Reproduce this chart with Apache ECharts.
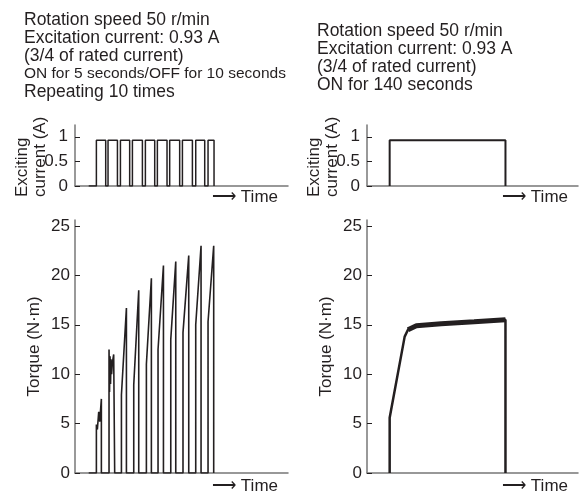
<!DOCTYPE html>
<html>
<head>
<meta charset="utf-8">
<script src="https://cdn.jsdelivr.net/npm/echarts@6/dist/echarts.min.js"></script>
<style>
  html, body { margin: 0; padding: 0; background: #fff; }
  #chart { width: 579px; height: 495px; }
</style>
</head>
<body>
<div id="chart"></div>
<script>
// time axis in seconds (same scale for all four panels)
const TIME_MAX = 256;

// left: exciting current, 10 on/off cycles
const currentLevel = 0.93;
const cycleStart = 16.5;
const pulseOn  = [25.7, 39.7, 54.6, 69.0, 84.6, 99.0, 113.8, 129.1, 145.1, 159.9];
const pulseOff = [36.9, 51.0, 65.7, 81.0, 95.8, 110.6, 125.8, 141.1, 155.9, 167.1];

// right: one long pulse (140 s)
const longOn = 27.5;
const longOff = 168;

// left torque, one spike per pulse
const tqOn   = [25.7, 40.9, 55.8, 70.6, 85.8, 99.8, 115.1, 129.8, 145.1, 159.9];
const tqOff  = [31.7, 47.7, 61.8, 76.6, 91.8, 106.3, 121.1, 136.7, 151.5, 166.7];
const tqFrom = [4.9, 12.5, 7.9, 8.9, 11.0, 12.5, 13.5, 14.2, 15.0, 15.3];
const tqPeak = [7.5, 12.0, 16.7, 18.5, 19.7, 21.0, 21.4, 22.0, 23.0, 23.0];
// chatter inside the first two pulses [t, torque]
const tqChatter = [
  [[26.9, 4.4], [28.5, 6.2], [29.7, 5.2]],
  [[41.5, 8.2], [42.1, 11.8], [42.7, 9.0], [43.3, 11.5], [44.0, 10.0], [45.0, 11.2], [46.5, 12.0]]
];

// right torque
const tqRightT = [27.5, 27.5, 45.7, 49.7, 59.9, 90, 130, 168, 168];
const tqRightV = [0, 5.6, 13.8, 14.5, 14.9, 15.1, 15.3, 15.5, 0];

const currentTicks = [0, 0.5, 1];
const torqueTicks = [0, 5, 10, 15, 20, 25];

const INK = '#231f20';
const FONT = 'Liberation Sans, Arial, sans-serif';

// build step traces
const currentLeft = [[cycleStart, 0]];
pulseOn.forEach((t, i) => {
  currentLeft.push([t, 0], [t, currentLevel], [pulseOff[i], currentLevel], [pulseOff[i], 0]);
});
const currentRight = [[longOn, 0], [longOn, currentLevel], [longOff, currentLevel], [longOff, 0]];

const torqueLeft = [[cycleStart, 0]];
tqOn.forEach((t, i) => {
  torqueLeft.push([t, 0], [t, tqFrom[i]]);
  (tqChatter[i] || []).forEach(p => torqueLeft.push(p));
  torqueLeft.push([tqOff[i], tqPeak[i]], [tqOff[i], 0]);
});
const torqueRight = tqRightT.map((t, i) => [t, tqRightV[i]]);
const torquePlateau = torqueRight.slice(3, 8);

const chart = echarts.init(document.getElementById('chart'));

function xAxisFor(gridIndex, padTop) {
  return {
    type: 'value', gridIndex, min: 0, max: TIME_MAX,
    axisLine: { lineStyle: { color: '#777', width: 1.5 } },
    axisTick: { show: false },
    axisLabel: { show: false },
    splitLine: { show: false },
    name: '\u27f6 Time',
    nameLocation: 'end',
    nameGap: -10,
    nameMoveOverlap: false,
    nameTextStyle: {
      color: INK, fontFamily: FONT, fontSize: 17,
      align: 'right', verticalAlign: 'top', padding: [padTop, 0, 0, 0]
    }
  };
}

function yAxisFor(gridIndex, max, ticks, labelMargin) {
  return {
    type: 'value', gridIndex, min: 0, max,
    axisLine: { show: true, lineStyle: { color: '#777', width: 1.5 } },
    axisTick: { show: true, inside: true, length: 5, customValues: ticks, lineStyle: { color: INK } },
    axisLabel: { customValues: ticks, color: INK, fontFamily: FONT, fontSize: 17, margin: labelMargin },
    splitLine: { show: false }
  };
}

const currentName = {
  name: 'Exciting\ncurrent (A)',
  nameLocation: 'start',
  nameRotate: 90,
  nameGap: 11,
  nameMoveOverlap: false,
  nameTextStyle: {
    color: INK, fontFamily: FONT, fontSize: 17, lineHeight: 18,
    align: 'left', verticalAlign: 'bottom', padding: [0, 0, 26, 0]
  }
};
const torqueName = {
  name: 'Torque (N\u00b7m)',
  nameLocation: 'middle',
  nameGap: 32,
  nameMoveOverlap: false,
  nameTextStyle: { color: INK, fontFamily: FONT, fontSize: 17 }
};

const titleRich = {
  a: { fontFamily: FONT, fontSize: 17.5, fontWeight: 'normal', lineHeight: 18, color: INK },
  b: { fontFamily: FONT, fontSize: 15.5, fontWeight: 'normal', lineHeight: 18, color: INK }
};

const option = {
  animation: false,
  backgroundColor: '#fff',
  title: [
    {
      left: 24, top: 11, padding: 0,
      text: '{a|Rotation speed 50 r/min}\n{a|Excitation current: 0.93 A}\n{a|(3/4 of rated current)}\n{b|ON for 5 seconds/OFF for 10 seconds}\n{a|Repeating 10 times}',
      textStyle: { rich: titleRich, fontWeight: 'normal', lineHeight: 18 }
    },
    {
      left: 317, top: 22, padding: 0,
      text: '{a|Rotation speed 50 r/min}\n{a|Excitation current: 0.93 A}\n{a|(3/4 of rated current)}\n{a|ON for 140 seconds}',
      textStyle: { rich: titleRich, fontWeight: 'normal', lineHeight: 18 }
    }
  ],
  grid: [
    { left: 75, top: 125, width: 213, height: 61 },
    { left: 367, top: 125, width: 211, height: 61 },
    { left: 75, top: 220, width: 213, height: 253 },
    { left: 367, top: 220, width: 211, height: 253 }
  ],
  xAxis: [xAxisFor(0, 3), xAxisFor(1, 3), xAxisFor(2, 5), xAxisFor(3, 5)],
  yAxis: [
    Object.assign(yAxisFor(0, 1.24, currentTicks, 7), currentName),
    Object.assign(yAxisFor(1, 1.24, currentTicks, 7), currentName),
    Object.assign(yAxisFor(2, 25.6, torqueTicks, 5), torqueName),
    Object.assign(yAxisFor(3, 25.6, torqueTicks, 5), torqueName)
  ],
  series: [
    { type: 'line', xAxisIndex: 0, yAxisIndex: 0, data: currentLeft, symbol: 'none',
      lineStyle: { color: INK, width: 1.5 } },
    { type: 'line', xAxisIndex: 1, yAxisIndex: 1, data: currentRight, symbol: 'none',
      lineStyle: { color: INK, width: 2 } },
    { type: 'line', xAxisIndex: 2, yAxisIndex: 2, data: torqueLeft, symbol: 'none',
      lineStyle: { color: INK, width: 1.6 } },
    { type: 'line', xAxisIndex: 3, yAxisIndex: 3, data: torqueRight, symbol: 'none',
      lineStyle: { color: INK, width: 2.5 } },
    { type: 'line', xAxisIndex: 3, yAxisIndex: 3, data: torquePlateau, symbol: 'none',
      lineStyle: { color: INK, width: 5 } }
  ]
};

chart.setOption(option);
</script>
</body>
</html>
